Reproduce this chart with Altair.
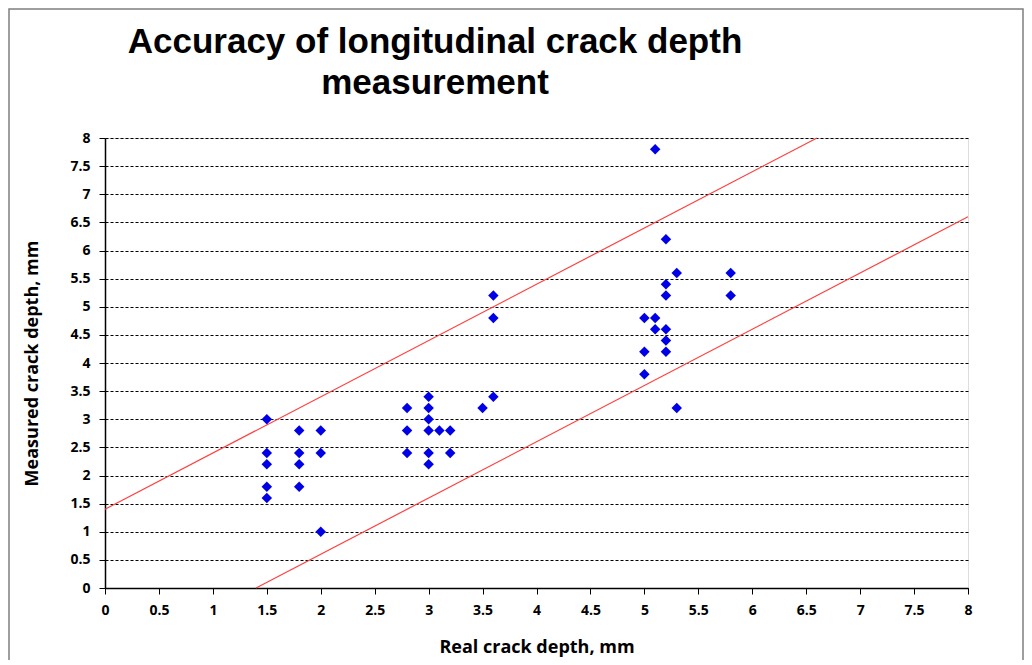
import altair as alt
import pandas as pd

# Scatter data: real vs measured crack depth (mm)
real_depth = [1.5, 1.5, 1.5, 1.5, 1.5,
              1.8, 1.8, 1.8, 1.8,
              2.0, 2.0, 2.0,
              2.8, 2.8, 2.8,
              3.0, 3.0, 3.0, 3.0, 3.0, 3.0,
              3.1, 3.2, 3.2,
              3.5, 3.6, 3.6, 3.6,
              5.0, 5.0, 5.0,
              5.1, 5.1, 5.1,
              5.2, 5.2, 5.2, 5.2, 5.2, 5.2,
              5.3, 5.3,
              5.8, 5.8]
measured_depth = [3.0, 2.4, 2.2, 1.8, 1.6,
                  2.8, 2.4, 2.2, 1.8,
                  2.8, 2.4, 1.0,
                  3.2, 2.8, 2.4,
                  3.4, 3.2, 3.0, 2.8, 2.4, 2.2,
                  2.8, 2.8, 2.4,
                  3.2, 3.4, 5.2, 4.8,
                  4.8, 4.2, 3.8,
                  7.8, 4.8, 4.6,
                  6.2, 5.4, 5.2, 4.6, 4.4, 4.2,
                  5.6, 3.2,
                  5.6, 5.2]

# Tolerance band lines (y = x +/- 1.4)
upper_x = [0.0, 6.6]
upper_y = [1.4, 8.0]
lower_x = [1.4, 8.0]
lower_y = [0.0, 6.6]

tick_values = [i * 0.5 for i in range(17)]
title_lines = ["Accuracy of longitudinal  crack depth", "measurement"]

pts = pd.DataFrame({"real": real_depth, "measured": measured_depth})
lines = pd.DataFrame({
    "real": upper_x + lower_x,
    "measured": upper_y + lower_y,
    "band": ["upper", "upper", "lower", "lower"],
})

W, H = 863, 450
LBL_FONT = "Open Sans"

xscale = alt.Scale(domain=[0, 8], nice=False, zero=False)
yscale = alt.Scale(domain=[0, 8], nice=False, zero=False)

xaxis = alt.Axis(
    title="Real crack depth, mm", values=tick_values, format="~g",
    labelOverlap=False, labelFlush=False,
    grid=False, domainColor="black", domainWidth=1.5, tickColor="black",
    tickSize=6, labelPadding=9, labelFont=LBL_FONT, labelFontSize=14,
    labelFontWeight="bold", labelColor="black",
    titleFont=LBL_FONT, titleFontSize=18,
    titleFontWeight="bold", titleColor="black", titleX=W / 2, titleY=59,
    titleBaseline="middle", titleAlign="center",
)
yaxis = alt.Axis(
    title="Measured crack depth, mm", values=tick_values, format="~g",
    labelOverlap=False, labelFlush=False,
    grid=True, gridColor="black", gridDash=[3, 2], gridWidth=1,
    domainColor="black", domainWidth=1.5, tickColor="black", tickSize=6,
    labelPadding=9, labelFont=LBL_FONT, labelFontSize=14,
    labelFontWeight="bold", labelColor="black",
    titleFont=LBL_FONT, titleFontSize=18, titleFontWeight="bold",
    titleColor="black", titleX=-73, titleY=H / 2, titleAngle=-90,
    titleBaseline="middle", titleAlign="center",
)

border = alt.Chart(pd.DataFrame({"a": [0]})).mark_rect(
    fill=None, stroke="#7f7f7f", strokeWidth=1.5
).encode(
    x=alt.value(-96), x2=alt.value(918), y=alt.value(-129), y2=alt.value(540)
)

title = alt.Chart(pd.DataFrame({"t": ["\n".join(title_lines)]})).mark_text(
    font="Liberation Sans", fontSize=35, fontWeight="bold", color="black",
    align="center", baseline="alphabetic", lineBreak="\n", lineHeight=41,
).encode(
    text="t:N", x=alt.value(330), y=alt.value(-85)
)

band = alt.Chart(lines).mark_line(color="#ff4040", strokeWidth=1.2).encode(
    x=alt.X("real:Q", scale=xscale, axis=xaxis),
    y=alt.Y("measured:Q", scale=yscale, axis=yaxis),
    detail="band:N",
)

scatter = alt.Chart(pts).mark_point(
    shape="diamond", filled=True, size=110, color="#0000e6", opacity=1
).encode(
    x=alt.X("real:Q", scale=xscale, axis=xaxis),
    y=alt.Y("measured:Q", scale=yscale, axis=yaxis),
)

chart = alt.layer(border, title, band, scatter).properties(
    width=W, height=H,
    autosize=alt.AutoSizeParams(type="none"),
    padding={"left": 97, "top": 130, "right": 56, "bottom": 72},
).configure_view(
    stroke="#999999", strokeWidth=2
).configure(background="white")

chart.save("out.html", embed_options={"renderer": "svg", "actions": False})
